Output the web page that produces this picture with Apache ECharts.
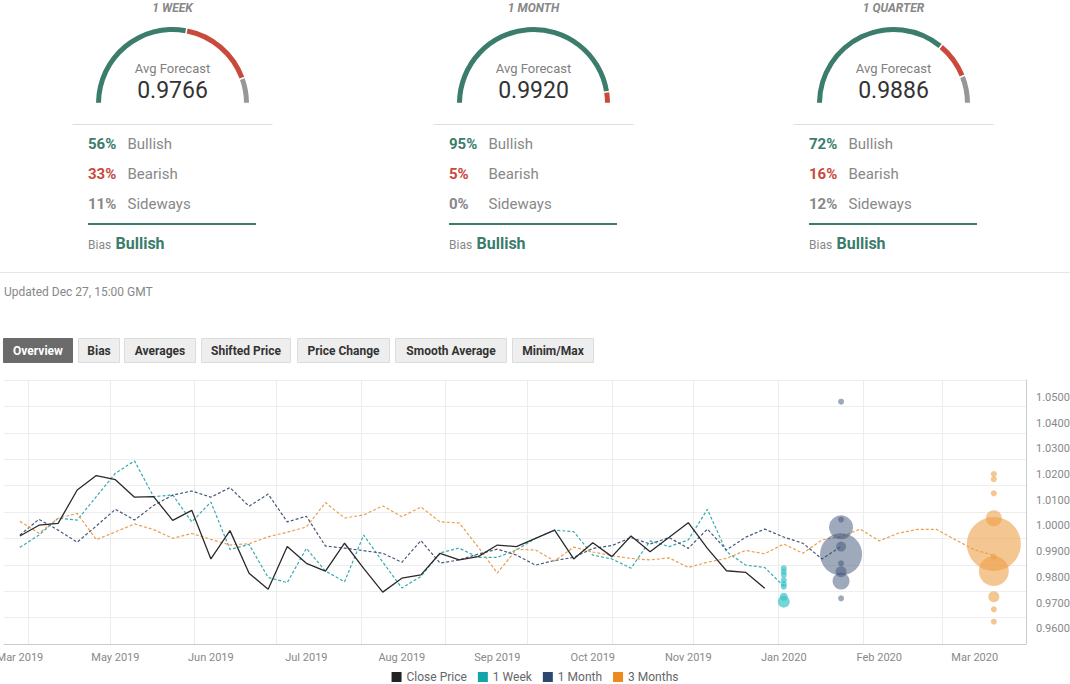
<!DOCTYPE html>
<html>
<head>
<meta charset="utf-8">
<script src="https://cdn.jsdelivr.net/npm/echarts@6/dist/echarts.min.js"></script>
<style>
html, body { margin: 0; padding: 0; background: #fff; }
#chart { width: 1070px; height: 684px; }
</style>
</head>
<body>
<div id="chart"></div>
<script>
const DAY = 86400000
const MONTHS = ['Jan', 'Feb', 'Mar', 'Apr', 'May', 'Jun', 'Jul', 'Aug', 'Sep', 'Oct', 'Nov', 'Dec']

// weekly dates (fridays), first one 29 Mar 2019
const firstWeek = Date.UTC(2019, 2, 29)
const weekDate = i => firstWeek + i * 7 * DAY

// sentiment boxes
const gaugeTitles = ['1 WEEK', '1 MONTH', '1 QUARTER']
const avgForecast = ['0.9766', '0.9920', '0.9886']
const bullishPct = [56, 95, 72]
const bearishPct = [33, 5, 16]
const sidewaysPct = [11, 0, 12]
const biasText = ['Bullish', 'Bullish', 'Bullish']

const tabLabels = ['Overview', 'Bias', 'Averages', 'Shifted Price', 'Price Change', 'Smooth Average', 'Minim/Max']

// chart series
const closePrice = [0.9961, 1.0003, 1.0010, 1.0140, 1.0196, 1.0180, 1.0112, 1.0114, 1.0022, 1.0061,
  0.9872, 0.9982, 0.9816, 0.9754, 0.9920, 0.9855, 0.9825, 0.9933, 0.9835, 0.9743,
  0.9797, 0.9810, 0.9894, 0.9868, 0.9881, 0.9926, 0.9920, 0.9952, 0.9984, 0.9872,
  0.9935, 0.9881, 0.9961, 0.9900, 0.9956, 1.0013, 0.9913, 0.9826, 0.9820, 0.9758]
const oneWeek = [0.9917, 0.9965, 1.0030, 1.0023, 1.0114, 1.0205, 1.0253, 1.0114, 1.0121, 1.0016,
  1.0093, 0.9909, 0.9928, 0.9800, 0.9780, 0.9913, 0.9825, 0.9783, 0.9965, 0.9860,
  0.9759, 0.9804, 0.9895, 0.9914, 0.9878, 0.9878, 0.9907, 0.9952, 0.9984, 0.9978,
  0.9887, 0.9872, 0.9836, 0.9942, 0.9920, 0.9946, 1.0065, 0.9900, 0.9848, 0.9839,
  0.9766]
const oneMonth = [0.9965, 1.0026, 0.9984, 0.9937, 1.0000, 1.0065, 1.0023, 1.0080, 1.0120, 1.0136,
  1.0112, 1.0149, 1.0077, 1.0124, 1.0016, 1.0038, 0.9922, 0.9914, 0.9904, 0.9894,
  0.9859, 0.9943, 0.9856, 0.9868, 0.9891, 0.9910, 0.9887, 0.9848, 0.9866, 0.9878,
  0.9913, 0.9924, 0.9955, 0.9930, 0.9955, 0.9913, 0.9988, 0.9907, 0.9956, 0.9988,
  0.9957, 0.9933, 0.9872, 0.9920]
const threeMonths = [1.0018, 0.9972, 1.0030, 1.0049, 0.9947, 0.9977, 1.0008, 0.9986, 0.9952, 0.9971,
  0.9948, 0.9926, 0.9931, 0.9958, 0.9976, 0.9996, 1.0091, 1.0031, 1.0043, 1.0078,
  1.0036, 1.0074, 1.0016, 1.0012, 0.9918, 0.9817, 0.9909, 0.9907, 0.9864, 0.9918,
  0.9899, 0.9885, 0.9874, 0.9868, 0.9876, 0.9839, 0.9859, 0.9874, 0.9905, 0.9892,
  0.9930, 0.9894, 0.9946, 0.9958, 0.9988, 0.9942, 0.9972, 0.9987, 0.9987, 0.9946,
  0.9907, 0.9886]

// forecast bubbles: [value, size]
const weekBubbles = [[0.9836, 6], [0.9823, 6], [0.9810, 6], [0.9790, 6], [0.9775, 6], [0.9764, 6], [0.9725, 8], [0.9706, 12]]
const monthBubbles = [[1.0483, 6], [1.0025, 6], [0.9995, 24], [0.9920, 10], [0.9890, 42], [0.9855, 6], [0.9822, 11], [0.9786, 17], [0.9719, 6]]
const quarterBubbles = [[1.0202, 6], [1.0182, 6], [1.0127, 6], [1.0030, 16], [0.9930, 54], [0.9880, 6], [0.9825, 30], [0.9725, 11], [0.9676, 6], [0.9628, 6]]

// axis ticks
const yTicks = [0.96, 0.97, 0.98, 0.99, 1.00, 1.01, 1.02, 1.03, 1.04, 1.05]
const xLabelWeeks = [0, 5, 10, 15, 20, 25, 30, 35, 40, 45, 50]
const monthStarts = [[2019, 3], [2019, 4], [2019, 5], [2019, 6], [2019, 7], [2019, 8], [2019, 9], [2019, 10], [2019, 11], [2020, 0], [2020, 1], [2020, 2]]

const GREEN = '#3b7c6c'
const RED = '#c9493b'
const GREY = '#979797'
const FONT = 'Roboto, sans-serif'

const series = v => v.map((y, i) => [weekDate(i), y])
const bubbles = (w, arr) => arr.map(d => ({ value: [weekDate(w), d[0]], symbolSize: d[1] }))

// top boxes
const panelCenters = [172.5, 533.5, 893.5]
let graphic = []
let pies = []
const txt = (x, y, text, o) => ({
  type: 'text', x: x, y: y, silent: true,
  style: Object.assign({
    text: text, fill: '#777', fontSize: 12, fontFamily: FONT,
    align: 'left', textAlign: 'left', verticalAlign: 'middle', textVerticalAlign: 'middle'
  }, o || {})
})
const hline = (x1, x2, y, color, w) => ({
  type: 'line', silent: true, shape: { x1: x1, y1: y, x2: x2, y2: y },
  style: { stroke: color, lineWidth: w }
})
panelCenters.forEach((cx, k) => {
  graphic.push(txt(cx, 8, gaugeTitles[k], { fill: '#888', fontSize: 12, fontStyle: 'italic', fontWeight: 'bold', align: 'center', textAlign: 'center' }))
  graphic.push(txt(cx, 68, 'Avg Forecast', { fill: '#808080', fontSize: 13, align: 'center', textAlign: 'center' }))
  graphic.push(txt(cx, 90, avgForecast[k], { fill: '#333', fontSize: 23, align: 'center', textAlign: 'center' }))
  graphic.push(hline(cx - 100, cx + 100, 124.5, '#dddddd', 1))
  const rows = [[bullishPct[k], 'Bullish', GREEN], [bearishPct[k], 'Bearish', RED], [sidewaysPct[k], 'Sideways', '#888']]
  rows.forEach((r, j) => {
    graphic.push(txt(cx - 84.5, 144 + j * 30, r[0] + '%', { fill: r[2], fontSize: 15, fontWeight: 'bold' }))
    graphic.push(txt(cx - 45, 144 + j * 30, r[1], { fill: '#888', fontSize: 15 }))
  })
  graphic.push(hline(cx - 84.5, cx + 83.5, 224, GREEN, 2))
  graphic.push(txt(cx - 84.5, 245, 'Bias', { fill: '#888', fontSize: 12 }))
  graphic.push(txt(cx - 57, 243, biasText[k], { fill: GREEN, fontSize: 16, fontWeight: 'bold' }))

  pies.push({
    type: 'pie', silent: true, center: [cx, 103.5], radius: [71.5, 76.5],
    startAngle: 180, endAngle: 0, padAngle: 1.2, clockwise: true,
    label: { show: false }, labelLine: { show: false }, emphasis: { disabled: true },
    data: [
      { value: bullishPct[k], itemStyle: { color: GREEN } },
      { value: bearishPct[k], itemStyle: { color: RED } },
      { value: sidewaysPct[k], itemStyle: { color: GREY } }
    ].filter(d => d.value > 0)
  })
})
graphic.push(hline(0, 1070, 272.5, '#e6e6e6', 1))
graphic.push(txt(4, 292, 'Updated Dec 27, 15:00 GMT', { fill: '#888', fontSize: 12 }))

// tab buttons
const tabX = [3, 78, 124, 201, 297, 395, 512]
const tabW = [69, 41, 71, 89, 92, 111, 81]
tabLabels.forEach((t, i) => {
  const on = i === 0
  graphic.push({
    type: 'rect', silent: true, shape: { x: tabX[i] + 0.5, y: 338.5, width: tabW[i], height: 24 },
    style: { fill: on ? '#6b6b6b' : '#eeeeee', stroke: on ? '#6b6b6b' : '#dcdcdc', lineWidth: 1 }
  })
  graphic.push(txt(tabX[i] + tabW[i] / 2 + 0.5, 350.5, t, {
    fill: on ? '#fff' : '#333', fontSize: 12, fontWeight: 'bold', align: 'center', textAlign: 'center'
  }))
})

const chart = echarts.init(document.getElementById('chart'), null, { renderer: 'svg' })

const option = {
  animation: false,
  textStyle: { fontFamily: FONT },
  graphic: graphic,
  grid: { left: 4, right: 44, top: 380, bottom: 40, containLabel: false, outerBoundsMode: 'none' },
  legend: {
    data: ['Close Price', '1 Week', '1 Month', '3 Months'],
    top: 666, left: 'center', icon: 'rect', itemWidth: 10, itemHeight: 10, itemGap: 11,
    textStyle: { color: '#666', fontSize: 12, fontFamily: FONT }
  },
  xAxis: {
    type: 'value',
    min: Date.UTC(2019, 2, 23, 4),
    max: Date.UTC(2020, 2, 31, 19),
    axisLine: { lineStyle: { color: '#cccccc' } },
    axisTick: { show: false },
    splitLine: { show: false },
    axisLabel: {
      customValues: xLabelWeeks.map(weekDate),
      color: '#888', fontSize: 11, margin: 8,
      formatter: v => { const d = new Date(v); return MONTHS[d.getUTCMonth()] + ' ' + d.getUTCFullYear() }
    }
  },
  yAxis: [{
    type: 'value', position: 'right',
    min: 0.95414, max: 1.05674,
    axisLine: { show: true, lineStyle: { color: '#cccccc' } },
    axisTick: { show: false },
    splitLine: { show: false },
    axisLabel: {
      customValues: yTicks, color: '#888', fontSize: 11, margin: 10,
      formatter: v => v.toFixed(4)
    }
  }, {
    type: 'value', position: 'right', min: 0, max: 10, interval: 1,
    axisLine: { show: false }, axisTick: { show: false }, axisLabel: { show: false },
    splitLine: { show: true, lineStyle: { color: '#eeeeee' } }
  }],
  series: [{
    name: 'Close Price', type: 'line', showSymbol: false, z: 5,
    itemStyle: { color: '#222' },
    lineStyle: { color: '#2a2a2a', width: 1.3 },
    data: series(closePrice),
    markLine: {
      silent: true, symbol: ['none', 'none'], label: { show: false }, z: 1,
      lineStyle: { color: '#ececec', type: 'solid', width: 1 },
      data: monthStarts.map(m => ({ xAxis: Date.UTC(m[0], m[1], 1) }))
    }
  }, {
    name: '1 Week', type: 'line', showSymbol: false,
    itemStyle: { color: '#14a5a8' },
    lineStyle: { color: '#38aab3', width: 1.2, type: [3, 2] },
    data: series(oneWeek)
  }, {
    name: '1 Month', type: 'line', showSymbol: false,
    itemStyle: { color: '#2c4870' },
    lineStyle: { color: '#46597a', width: 1.2, type: [3, 2] },
    data: series(oneMonth)
  }, {
    name: '3 Months', type: 'line', showSymbol: false,
    itemStyle: { color: '#ec8a1f' },
    lineStyle: { color: '#eb9e4e', width: 1.2, type: [3, 2] },
    data: series(threeMonths)
  }, {
    name: 'wk', type: 'scatter', z: 3,
    itemStyle: { color: '#3cc3c9', opacity: 0.7 },
    data: bubbles(40, weekBubbles)
  }, {
    name: 'mo', type: 'scatter', z: 3,
    itemStyle: { color: '#3e5478', opacity: 0.5 },
    data: bubbles(43, monthBubbles)
  }, {
    name: 'qt', type: 'scatter', z: 3,
    itemStyle: { color: '#eda048', opacity: 0.6 },
    data: bubbles(51, quarterBubbles)
  }].concat(pies)
}

chart.setOption(option)
</script>
</body>
</html>
